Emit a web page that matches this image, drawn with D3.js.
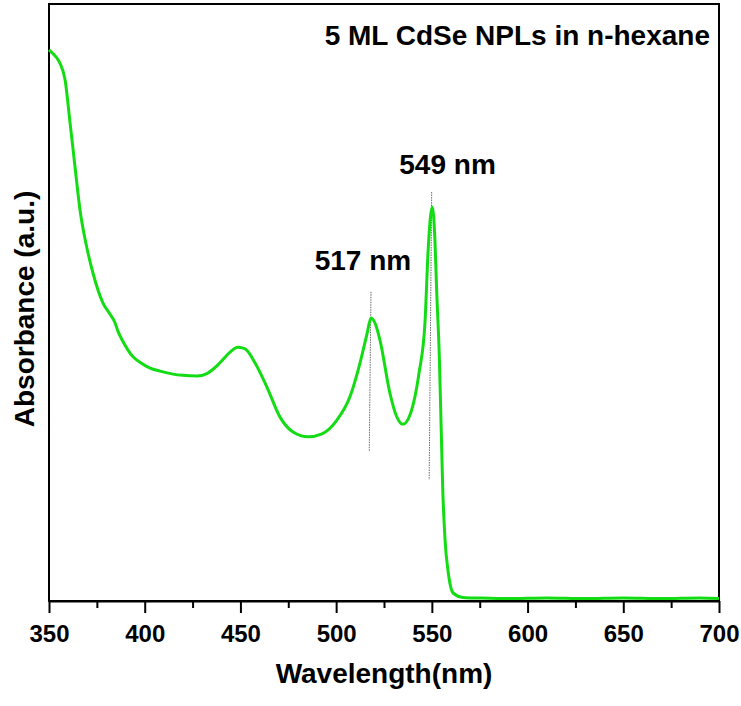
<!DOCTYPE html>
<html>
<head>
<meta charset="utf-8">
<script src="https://cdn.jsdelivr.net/npm/d3@7"></script>
<style>
  body { margin: 0; background: #fff; }
  text { font-family: Arial, 'Liberation Sans', sans-serif; font-weight: bold; fill: #000; }
</style>
</head>
<body>
<div id="chart"></div>
<script>
// absorption spectrum (arbitrary units)
var wavelength = [350, 352, 354, 355.7, 358.4, 361, 363.6, 366.2, 369.7, 373, 378.2, 382, 384.5, 386, 388.1,
  393.9, 397.5, 402.8, 408, 414.8, 420, 427.3, 432.5, 436, 439.3, 444.6, 448.7, 451, 453.4, 457.6,
  463.9, 470.7, 477.5, 485.3, 492.6, 500.4, 507.2, 512.5, 516.1, 518.2, 520.5, 522.9, 528.1, 531.6,
  534.9, 538.6, 543.3, 546.4, 548.1, 550.2, 551.6, 552.5, 553.9, 554.8, 555.7, 556.9, 558.6, 561.2,
  566.3, 575, 590, 610, 630, 650, 670, 690, 700]
var absorbance = [0.923, 0.917, 0.910, 0.901, 0.873, 0.801, 0.727, 0.655, 0.593, 0.549, 0.499, 0.480, 0.466, 0.452, 0.438,
  0.409, 0.400, 0.390, 0.385, 0.380, 0.378, 0.377, 0.381, 0.389, 0.399, 0.417, 0.425, 0.424, 0.420, 0.399,
  0.358, 0.308, 0.283, 0.275, 0.280, 0.303, 0.342, 0.399, 0.447, 0.474, 0.464, 0.437, 0.348, 0.309,
  0.296, 0.312, 0.382, 0.466, 0.590, 0.660, 0.605, 0.521, 0.409, 0.298, 0.186, 0.102, 0.047, 0.013,
  0.006, 0.005, 0.004, 0.005, 0.004, 0.005, 0.004, 0.005, 0.004]

var xTicks = [350, 400, 450, 500, 550, 600, 650, 700]
var xMinorTicks = [375, 425, 475, 525, 575, 625, 675]

// peak markers: label position, dotted line from (x1,y1) to (x2,y2)
var peaks = [
  { label: '517 nm', x1: 518.2, y1: 0.518, x2: 517.3, y2: 0.250, lx: 514.0, ly: 0.555 },
  { label: '549 nm', x1: 549.9, y1: 0.685, x2: 548.6, y2: 0.203, lx: 558.2, ly: 0.715 }
]

var width = 741
var height = 706
var margin = { top: 4, left: 49, right: 22, bottom: 105 }

var svg = d3.select('#chart')
  .append('svg')
  .attr('width', width)
  .attr('height', height)

var x = d3.scaleLinear().domain([350, 700]).range([margin.left, width - margin.right])
var y = d3.scaleLinear().domain([0, 1]).range([height - margin.bottom, margin.top])

var points = wavelength.map((w, i) => [w, absorbance[i]])

// frame
svg.append('rect')
  .attr('x', x(350))
  .attr('y', y(1))
  .attr('width', x(700) - x(350))
  .attr('height', y(0) - y(1))
  .attr('fill', 'none')
  .attr('stroke', '#000')
  .attr('stroke-width', 2)

// x axis
var xAxis = svg.append('g')
  .attr('transform', 'translate(0,' + y(0) + ')')
  .call(d3.axisBottom(x).tickValues(xTicks).tickSize(12).tickSizeOuter(0).tickPadding(6))
xAxis.select('.domain').attr('stroke-width', 2)
xAxis.selectAll('.tick line').attr('stroke-width', 2)
xAxis.selectAll('.tick text').attr('font-size', 24).attr('dy', '0.95em')

svg.append('g')
  .attr('transform', 'translate(0,' + y(0) + ')')
  .call(d3.axisBottom(x).tickValues(xMinorTicks).tickSize(7).tickFormat(''))
  .call(g => g.select('.domain').remove())
  .selectAll('.tick line').attr('stroke-width', 2)

// dotted peak lines
svg.selectAll('.peak-line')
  .data(peaks)
  .enter()
  .append('line')
  .attr('class', 'peak-line')
  .attr('x1', d => x(d.x1))
  .attr('y1', d => y(d.y1))
  .attr('x2', d => x(d.x2))
  .attr('y2', d => y(d.y2))
  .attr('stroke', '#444')
  .attr('stroke-width', 0.8)
  .attr('stroke-dasharray', '1.5,1')

// spectrum
var line = d3.line()
  .x(d => x(d[0]))
  .y(d => y(d[1]))
  .curve(d3.curveMonotoneX)

svg.append('path')
  .datum(points)
  .attr('d', line)
  .attr('fill', 'none')
  .attr('stroke', '#14dc14')
  .attr('stroke-width', 3)
  .attr('stroke-linejoin', 'round')

// peak labels
svg.selectAll('.peak-label')
  .data(peaks)
  .enter()
  .append('text')
  .attr('class', 'peak-label')
  .attr('x', d => x(d.lx))
  .attr('y', d => y(d.ly))
  .attr('text-anchor', 'middle')
  .attr('font-size', 28)
  .text(d => d.label)

// title
svg.append('text')
  .attr('x', 710)
  .attr('y', 45)
  .attr('text-anchor', 'end')
  .attr('font-size', 28)
  .text('5 ML CdSe NPLs in n-hexane')

// axis titles
svg.append('text')
  .attr('x', (x(350) + x(700)) / 2)
  .attr('y', 683)
  .attr('text-anchor', 'middle')
  .attr('font-size', 28)
  .text('Wavelength(nm)')

svg.append('text')
  .attr('transform', 'translate(34,309) rotate(-90)')
  .attr('text-anchor', 'middle')
  .attr('font-size', 28)
  .text('Absorbance (a.u.)')
</script>
</body>
</html>
